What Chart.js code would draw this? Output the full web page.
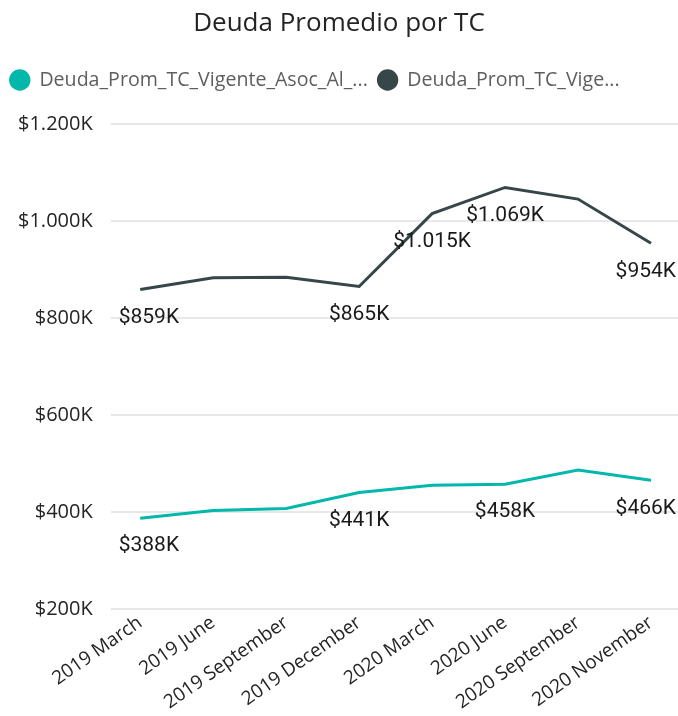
<!DOCTYPE html>
<html>
<head>
<meta charset="utf-8">
<script src="https://cdn.jsdelivr.net/npm/chart.js@4.4.1/dist/chart.umd.min.js"></script>
<style>
    html, body { margin: 0; padding: 0; background: #ffffff; }
    #wrap { width: 678px; height: 716px; position: relative; }
</style>
</head>
<body>
<div id="wrap"><canvas id="debtChart"></canvas></div>
<script>
// Chart data (values in thousands)
const periods = ['2019 March', '2019 June', '2019 September', '2019 December',
                 '2020 March', '2020 June', '2020 September', '2020 November'];
const seriesNames = ['Deuda_Prom_TC_Vigente_Asoc_Al_...', 'Deuda_Prom_TC_Vige...'];
const asocValues = [388, 404, 408, 441, 456, 458, 487, 466];
const vigenteValues = [859, 883, 884, 865, 1015, 1069, 1045, 954];
const asocLabelled = [0, 3, 5, 7];
const vigenteLabelled = [0, 3, 4, 5, 7];
const yTicks = [200, 400, 600, 800, 1000, 1200];

const TEAL = '#01B8AA';
const SLATE = '#374649';
const TEXT = '#252423';

function formatK(v) {
    return '$' + v.toLocaleString('de-DE') + 'K';
}

// Draw value labels under selected points
const pointLabels = {
    id: 'pointLabels',
    afterDatasetsDraw(chart) {
        const ctx = chart.ctx;
        const area = chart.chartArea;
        ctx.save();
        ctx.font = '21px Roboto';
        ctx.fillStyle = '#1a1a1a';
        ctx.textBaseline = 'middle';
        ctx.textAlign = 'left';
        chart.data.datasets.forEach(function(ds, di) {
            const meta = chart.getDatasetMeta(di);
            ds.labelled.forEach(function(i) {
                const pt = meta.data[i];
                const text = formatK(ds.data[i].y);
                const w = ctx.measureText(text).width;
                let x = pt.x - w / 2;
                if (x < area.left + 8) x = area.left + 8;
                if (x + w > area.right - 2) x = area.right - 2 - w;
                ctx.fillText(text, x, pt.y + 28);
            });
        });
        ctx.restore();
    }
};

// Extra room below the legend
const legendGap = {
    id: 'legendGap',
    beforeInit(chart) {
        const fit = chart.legend.fit;
        chart.legend.fit = function() {
            fit.bind(chart.legend)();
            this.height += 24;
        };
    }
};

const ctx = document.getElementById('debtChart').getContext('2d');
const debtChart = new Chart(ctx, {
    type: 'line',
    data: {
        datasets: [{
            label: seriesNames[0],
            data: asocValues.map(function(v, i) { return { x: i, y: v }; }),
            labelled: asocLabelled,
            borderColor: TEAL,
            backgroundColor: TEAL,
            borderWidth: 3,
            pointRadius: 0,
            tension: 0
        }, {
            label: seriesNames[1],
            data: vigenteValues.map(function(v, i) { return { x: i, y: v }; }),
            labelled: vigenteLabelled,
            borderColor: SLATE,
            backgroundColor: SLATE,
            borderWidth: 3,
            pointRadius: 0,
            tension: 0
        }]
    },
    options: {
        responsive: true,
        maintainAspectRatio: false,
        animation: false,
        layout: {
            padding: { left: 0, right: 0, top: 8, bottom: 0 }
        },
        plugins: {
            title: {
                display: true,
                text: 'Deuda Promedio por TC',
                color: TEXT,
                font: { family: 'Open Sans', size: 26, weight: 'normal' },
                padding: { top: 0, bottom: 21 }
            },
            legend: {
                position: 'top',
                align: 'start',
                labels: {
                    usePointStyle: true,
                    pointStyle: 'circle',
                    boxHeight: 13,
                    color: '#605E5C',
                    font: { family: 'Open Sans', size: 19.6 },
                    padding: 10
                }
            },
            tooltip: { enabled: false }
        },
        scales: {
            x: {
                type: 'linear',
                min: -0.405,
                max: 7.37,
                afterBuildTicks: function(axis) {
                    axis.ticks = periods.map(function(p, i) { return { value: i }; });
                },
                grid: { display: false, drawTicks: false },
                border: { display: false },
                ticks: {
                    autoSkip: false,
                    minRotation: 35,
                    maxRotation: 35,
                    color: TEXT,
                    font: { family: 'Open Sans', size: 19 },
                    padding: 2,
                    callback: function(value) { return periods[value]; }
                }
            },
            y: {
                min: yTicks[0],
                max: yTicks[yTicks.length - 1],
                afterBuildTicks: function(axis) {
                    axis.ticks = yTicks.map(function(v) { return { value: v }; });
                },
                grid: { color: '#E8E8E8', lineWidth: 2, drawTicks: false },
                border: { display: false },
                ticks: {
                    color: TEXT,
                    font: { family: 'Open Sans', size: 20 },
                    padding: 18,
                    callback: function(value) { return formatK(value); }
                }
            }
        }
    },
    plugins: [pointLabels, legendGap]
});
</script>
</body>
</html>
